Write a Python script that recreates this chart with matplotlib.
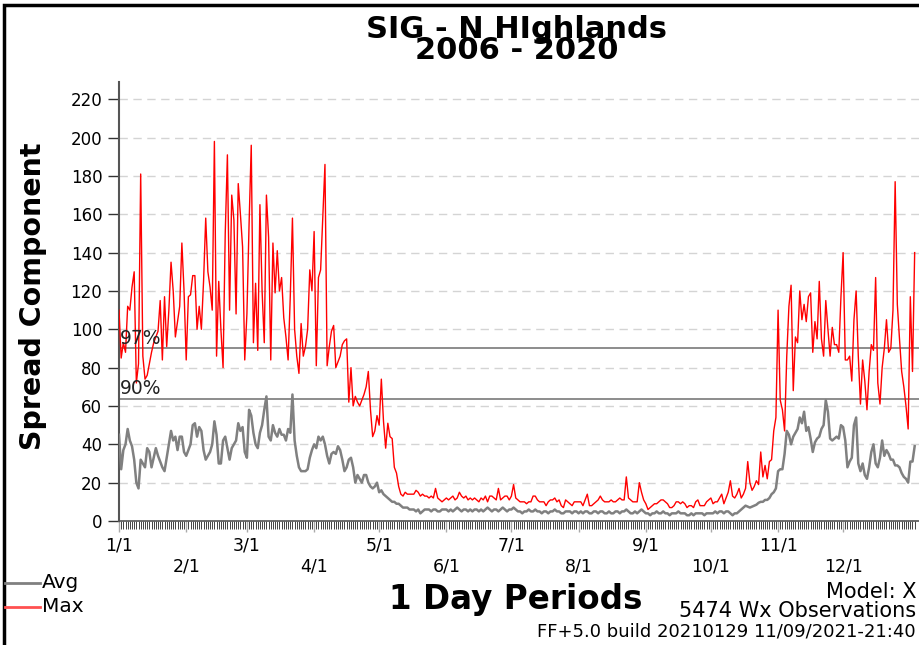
import matplotlib
matplotlib.use("Agg")
import matplotlib.pyplot as plt
from matplotlib.lines import Line2D
from matplotlib.patches import Rectangle
import numpy as np

W, H = 919, 645

# daily Max values, one list per month
max_jan = [110, 85, 93, 88, 112, 110, 122, 130, 72, 82, 181, 86, 74, 76, 82, 88, 93, 96, 99, 115,
           84, 117, 91, 110, 135, 120, 96, 104, 112, 145, 120]
max_feb = [84, 117, 118, 128, 128, 100, 112, 100, 125, 158, 130, 122, 110, 198, 86, 125, 100, 80,
           150, 191, 110, 170, 157, 108, 176, 160, 143, 84]
max_mar = [108, 155, 196, 93, 124, 89, 165, 120, 93, 170, 148, 84, 145, 119, 141, 120, 127, 106,
           96, 84, 117, 158, 100, 86, 77, 103, 86, 91, 100, 131, 120]
max_apr = [151, 81, 127, 131, 158, 186, 81, 91, 99, 102, 80, 83, 86, 92, 94, 95, 62, 80, 60, 65,
           62, 60, 63, 66, 70, 78, 58, 44, 47, 55]
max_may = [50, 74, 52, 38, 51, 44, 43, 28, 25, 18, 14, 13, 15, 14, 14, 14, 14, 16, 15, 13, 14, 13,
           13, 12, 13, 12, 17, 12, 11, 10, 11]
max_jun = [12, 11, 12, 13, 11, 12, 15, 13, 12, 13, 11, 12, 11, 12, 11, 10, 12, 11, 13, 10, 13, 13,
           12, 11, 17, 11, 12, 13, 13, 11]
max_jul = [13, 19, 12, 11, 10, 10, 10, 9, 10, 10, 13, 13, 11, 10, 10, 10, 8, 10, 11, 11, 12, 10,
           11, 8, 7, 11, 10, 9, 8, 10, 10]
max_aug = [10, 10, 8, 11, 14, 8, 8, 9, 10, 11, 13, 11, 10, 10, 10, 11, 10, 10, 11, 12, 11, 11, 23,
           12, 11, 10, 10, 10, 20, 15, 11]
max_sep = [9, 6, 7, 8, 9, 9, 10, 11, 11, 10, 9, 7, 7, 8, 10, 10, 9, 10, 9, 7, 8, 8, 7, 10, 11, 8,
           8, 8, 10, 11]
max_oct = [12, 9, 10, 10, 12, 14, 9, 12, 15, 21, 13, 12, 14, 17, 12, 14, 17, 31, 20, 16, 18, 21,
           19, 36, 23, 29, 22, 31, 32, 47, 54]
max_nov = [110, 63, 58, 47, 86, 112, 123, 68, 96, 93, 120, 105, 113, 104, 117, 119, 88, 104, 95,
           125, 95, 86, 115, 100, 86, 101, 92, 92, 88, 117]
max_dec = [140, 84, 84, 86, 73, 105, 120, 86, 61, 84, 73, 58, 78, 92, 89, 127, 72, 61, 80, 90, 105,
           88, 90, 110, 177, 113, 95, 78, 70, 60, 48]
max_next = [117, 78, 140]

# daily Avg values
avg_jan = [45, 27, 37, 40, 48, 42, 39, 32, 20, 17, 32, 30, 28, 38, 36, 28, 33, 38, 34, 31, 28, 26,
           33, 40, 47, 42, 44, 37, 44, 44, 36]
avg_feb = [34, 37, 40, 50, 51, 44, 49, 47, 37, 32, 34, 36, 40, 52, 45, 30, 30, 42, 44, 38, 32, 38,
           40, 42, 51, 47, 49, 36]
avg_mar = [33, 58, 55, 46, 40, 38, 46, 50, 58, 65, 44, 42, 50, 46, 44, 48, 45, 45, 42, 48, 46, 66,
           42, 34, 28, 26, 26, 26, 27, 33, 37]
avg_apr = [40, 38, 44, 42, 44, 40, 34, 30, 35, 36, 35, 39, 37, 32, 26, 28, 32, 33, 28, 20, 24, 22,
           20, 24, 24, 20, 18, 17, 18, 20]
avg_may = [15, 16, 14, 13, 12, 11, 10, 10, 9, 9, 8, 7, 7, 7, 6, 6, 6, 5, 6, 4, 5, 6, 6, 6, 5, 6, 6,
           5, 5, 6, 6]
avg_jun = [6, 5, 6, 5, 6, 7, 6, 5, 6, 6, 5, 6, 5, 6, 6, 5, 6, 5, 6, 7, 6, 5, 6, 6, 5, 6, 7, 6, 5, 6]
avg_jul = [6, 7, 6, 5, 5, 4, 5, 5, 6, 5, 5, 6, 5, 5, 4, 5, 5, 4, 5, 5, 6, 5, 5, 4, 4, 5, 5, 5, 4, 5,
           5]
avg_aug = [4, 5, 4, 5, 5, 4, 4, 5, 5, 4, 5, 5, 4, 4, 5, 4, 4, 5, 5, 4, 5, 5, 6, 5, 4, 4, 5, 4, 5, 6,
           5]
avg_sep = [4, 4, 3, 4, 4, 5, 4, 4, 5, 4, 4, 3, 4, 4, 4, 5, 4, 4, 4, 3, 3, 4, 3, 4, 4, 4, 4, 3, 4, 4]
avg_oct = [4, 4, 5, 4, 5, 5, 4, 5, 5, 4, 3, 4, 4, 5, 6, 7, 8, 7.5, 7, 7.5, 8, 8.5, 9.5, 10, 10, 11,
           11, 12, 14, 15, 17]
avg_nov = [26, 27, 27, 35, 47, 45, 40, 44, 46, 48, 54, 51, 57, 47, 49, 43, 36, 41, 43, 44, 48, 50,
           63, 57, 43, 42, 43, 44, 43, 50]
avg_dec = [49, 42, 28, 31, 33, 50, 54, 30, 26, 30, 24, 22, 28, 36, 40, 30, 28, 33, 42, 34, 37, 35,
           32, 32, 29, 29, 28, 25, 23, 22, 20]
avg_next = [31, 31, 39]

month_labels = ["1/1", "2/1", "3/1", "4/1", "5/1", "6/1", "7/1", "8/1", "9/1", "10/1", "11/1", "12/1"]
month_starts = [0, 31, 59, 90, 120, 151, 181, 212, 243, 273, 304, 334]
pct_lines = {"97%": 90, "90%": 63.5}
y_ticks = list(range(0, 221, 20))

max_vals = (max_jan + max_feb + max_mar + max_apr + max_may + max_jun + max_jul + max_aug
            + max_sep + max_oct + max_nov + max_dec + max_next)
avg_vals = (avg_jan + avg_feb + avg_mar + avg_apr + avg_may + avg_jun + avg_jul + avg_aug
            + avg_sep + avg_oct + avg_nov + avg_dec + avg_next)
days = np.arange(len(max_vals))

plt.rcParams['font.family'] = ['DejaVu Sans']

fig = plt.figure(figsize=(W / 100, H / 100), dpi=100)
fig.patch.set_facecolor('white')

def fx(x):
    return x / W

def fy(y):
    return 1 - y / H

ax = fig.add_axes([fx(119), fy(521), fx(919) - fx(119), fy(82) - fy(521)])
ax.set_xlim(0, 369)
ax.set_ylim(0, 229)

ax.plot(days, avg_vals, color='#808080', lw=1.8, zorder=3)
ax.plot(days, max_vals, color='#ff0000', lw=1.0, zorder=4)

for lab, val in pct_lines.items():
    ax.axhline(val, color='#8c8c8c', lw=1.4, zorder=2)
    ax.text(0.5, val + 0.5, lab, fontsize=13.5, color='#222222', ha='left', va='bottom', zorder=5)

ax.set_yticks(y_ticks)
ax.set_yticklabels([str(v) for v in y_ticks], fontsize=12)
ax.yaxis.grid(True, color='#d4d4d4', lw=1.0, linestyle=(0, (6, 4)))
ax.set_axisbelow(True)

ax.set_xticks(month_starts)
ax.set_xticklabels([lab if i % 2 == 0 else "\n" + lab for i, lab in enumerate(month_labels)],
                   fontsize=12.5, linespacing=1.25)
ax.set_xticks(days, minor=True)
ax.tick_params(axis='x', which='major', direction='out', length=8, width=1.0, color='#aaaaaa', pad=3)
ax.tick_params(axis='x', which='minor', direction='out', length=6, width=0.7, color='#444444')
ax.tick_params(axis='y', which='major', direction='out', length=8, width=1.0, color='#333333', pad=4)

for side in ['top', 'right']:
    ax.spines[side].set_visible(False)
ax.spines['left'].set_color('#555555')
ax.spines['left'].set_linewidth(1.5)
ax.spines['bottom'].set_color('#555555')
ax.spines['bottom'].set_linewidth(1.2)

# titles and labels
fig.text(fx(517), fy(40), "SIG - N HIghlands\n2006 - 2020", fontsize=22, fontweight='bold',
         ha='center', va='center', linespacing=0.68)
fig.text(fx(33), fy(296), "Spread Component", fontsize=20.5, fontweight='bold', rotation=90,
         ha='center', va='center')
fig.text(fx(516), fy(599), "1 Day Periods", fontsize=23.5, fontweight='bold', ha='center', va='center')

# legend in the lower left
fig.add_artist(Line2D([fx(5), fx(40)], [fy(583), fy(583)], color='#808080', lw=2))
fig.text(fx(42), fy(583), "Avg", fontsize=14.5, ha='left', va='center')
fig.add_artist(Line2D([fx(5), fx(40)], [fy(607), fy(607)], color='#ff5050', lw=2))
fig.text(fx(42), fy(607), "Max", fontsize=14.5, ha='left', va='center')

# info block
fig.text(fx(916), fy(592), "Model: X", fontsize=15, ha='right', va='center')
fig.text(fx(916), fy(611), "5474 Wx Observations", fontsize=15, ha='right', va='center')
fig.text(fx(916), fy(632), "FF+5.0 build 20210129 11/09/2021-21:40", fontsize=13, ha='right', va='center')

# outer frame (right and bottom edges fall outside the picture)
fig.add_artist(Rectangle((fx(4), fy(650)), fx(930), fy(5) - fy(650), fill=False,
                         edgecolor='black', lw=2.5, transform=fig.transFigure))

fig.savefig('out.png', dpi=100, facecolor='white')
